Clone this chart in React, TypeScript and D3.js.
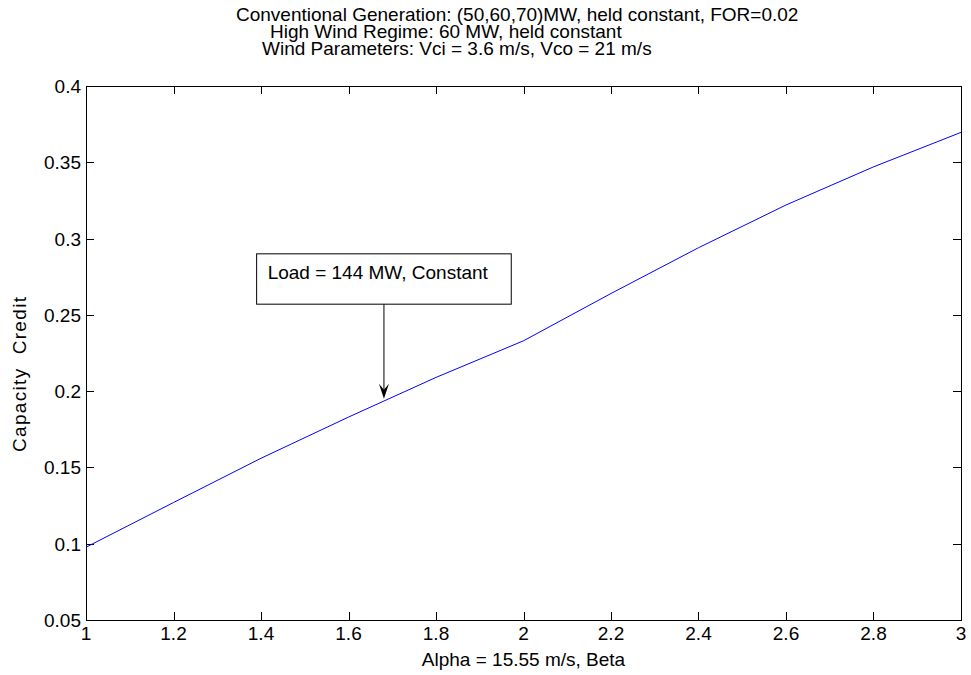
import * as d3 from 'd3';
import { useEffect, useRef } from 'react';

// Capacity credit vs Weibull shape parameter beta
const betaValues = [1.0, 1.2, 1.4, 1.6, 1.8, 2.0, 2.2, 2.4, 2.6, 2.8, 3.0];
const capacityCredit = [0.0977, 0.127, 0.156, 0.183, 0.209, 0.233, 0.264, 0.294, 0.322, 0.347, 0.3696];

const xTicks = [1, 1.2, 1.4, 1.6, 1.8, 2, 2.2, 2.4, 2.6, 2.8, 3];
const yTicks = [0.05, 0.1, 0.15, 0.2, 0.25, 0.3, 0.35, 0.4];

const titleLines = [
  'Conventional Generation: (50,60,70)MW, held constant, FOR=0.02',
  'High Wind Regime: 60 MW, held constant',
  'Wind Parameters: Vci = 3.6 m/s, Vco = 21 m/s'
];
// where each title line starts (matlab pads them with spaces)
const titleStarts = [236, 270, 262];

const noteText = 'Load = 144 MW, Constant';
// annotation in data units: box corners and arrow tip
const noteBox = { x0: 1.39, x1: 1.972, y0: 0.257, y1: 0.29 };
const arrowTip = { x: 1.681, y: 0.195 };

function App() {
  const ref = useRef<SVGSVGElement>(null);

  useEffect(() => {
    const width = 971;
    const height = 675;
    const margin = { top: 86, right: 10, bottom: 55, left: 86 };
    const font = 'Arial, "Liberation Sans", Helvetica, sans-serif';
    const fs = 19;

    const svg = d3.select(ref.current);
    svg.selectAll('*').remove();
    svg.attr('width', width).attr('height', height);

    svg.append('rect').attr('width', width).attr('height', height).attr('fill', '#fff');

    const x = d3.scaleLinear().domain([1, 3]).range([margin.left, width - margin.right]);
    const y = d3.scaleLinear().domain([0.05, 0.4]).range([height - margin.bottom, margin.top]);

    const [x0, x1] = x.range();
    const [yb, yt] = y.range();
    const tl = 8;

    const ax = svg.append('g').attr('stroke', '#000').attr('stroke-width', 1).attr('fill', 'none');
    ax.append('rect')
      .attr('x', x0).attr('y', yt)
      .attr('width', x1 - x0).attr('height', yb - yt)
      .attr('shape-rendering', 'crispEdges');

    xTicks.forEach((t) => {
      const px = Math.round(x(t)) + 0.5;
      ax.append('line').attr('x1', px).attr('x2', px).attr('y1', yb).attr('y2', yb - tl);
      ax.append('line').attr('x1', px).attr('x2', px).attr('y1', yt).attr('y2', yt + tl);
    });
    yTicks.forEach((t) => {
      const py = Math.round(y(t)) + 0.5;
      ax.append('line').attr('x1', x0).attr('x2', x0 + tl).attr('y1', py).attr('y2', py);
      ax.append('line').attr('x1', x1).attr('x2', x1 - tl).attr('y1', py).attr('y2', py);
    });

    const txt = svg.append('g').attr('font-family', font).attr('font-size', fs).attr('fill', '#000');

    txt.selectAll('text.xt')
      .data(xTicks)
      .enter()
      .append('text')
      .attr('x', (d) => x(d))
      .attr('y', yb + 20)
      .attr('text-anchor', 'middle')
      .text((d) => String(d));

    txt.selectAll('text.yt')
      .data(yTicks)
      .enter()
      .append('text')
      .attr('x', x0 - 5)
      .attr('y', (d) => y(d) + 7)
      .attr('text-anchor', 'end')
      .text((d) => String(d));

    txt.append('text')
      .attr('x', (x0 + x1) / 2)
      .attr('y', yb + 46)
      .attr('text-anchor', 'middle')
      .text('Alpha = 15.55 m/s, Beta');

    txt.append('text')
      .attr('transform', `translate(26,452) rotate(-90)`)
      .attr('textLength', 155)
      .attr('lengthAdjust', 'spacing')
      .style('white-space', 'pre')
      .text('Capacity  Credit');

    titleLines.forEach((line, i) => {
      txt.append('text')
        .attr('x', titleStarts[i])
        .attr('y', 21 + i * 17)
        .text(line);
    });

    // data line
    const line = d3.line<number>()
      .x((_, i) => x(betaValues[i]))
      .y((d) => y(d));
    svg.append('path')
      .datum(capacityCredit)
      .attr('fill', 'none')
      .attr('stroke', '#0000ff')
      .attr('stroke-width', 1)
      .attr('d', line);

    // annotation box
    const bx0 = x(noteBox.x0), bx1 = x(noteBox.x1);
    const by0 = y(noteBox.y1), by1 = y(noteBox.y0);
    svg.append('rect')
      .attr('x', bx0).attr('y', by0)
      .attr('width', bx1 - bx0).attr('height', by1 - by0)
      .attr('fill', '#fff').attr('stroke', '#000').attr('stroke-width', 1);
    svg.append('text')
      .attr('font-family', font)
      .attr('font-size', fs)
      .attr('x', bx0 + 11)
      .attr('y', by0 + 25)
      .text(noteText);

    // arrow
    const ax2 = x(arrowTip.x), ay2 = y(arrowTip.y);
    svg.append('line')
      .attr('x1', ax2).attr('x2', ax2)
      .attr('y1', by1).attr('y2', ay2 - 4)
      .attr('stroke', '#000').attr('stroke-width', 1);
    svg.append('path')
      .attr('d', `M${ax2},${ay2} L${ax2 - 5},${ay2 - 15} L${ax2},${ay2 - 9} L${ax2 + 5},${ay2 - 15} Z`)
      .attr('fill', '#000');
  }, []);

  return <svg ref={ref} style={{ display: 'block', position: 'absolute', left: 0, top: 0 }} />;
}

export default App;
